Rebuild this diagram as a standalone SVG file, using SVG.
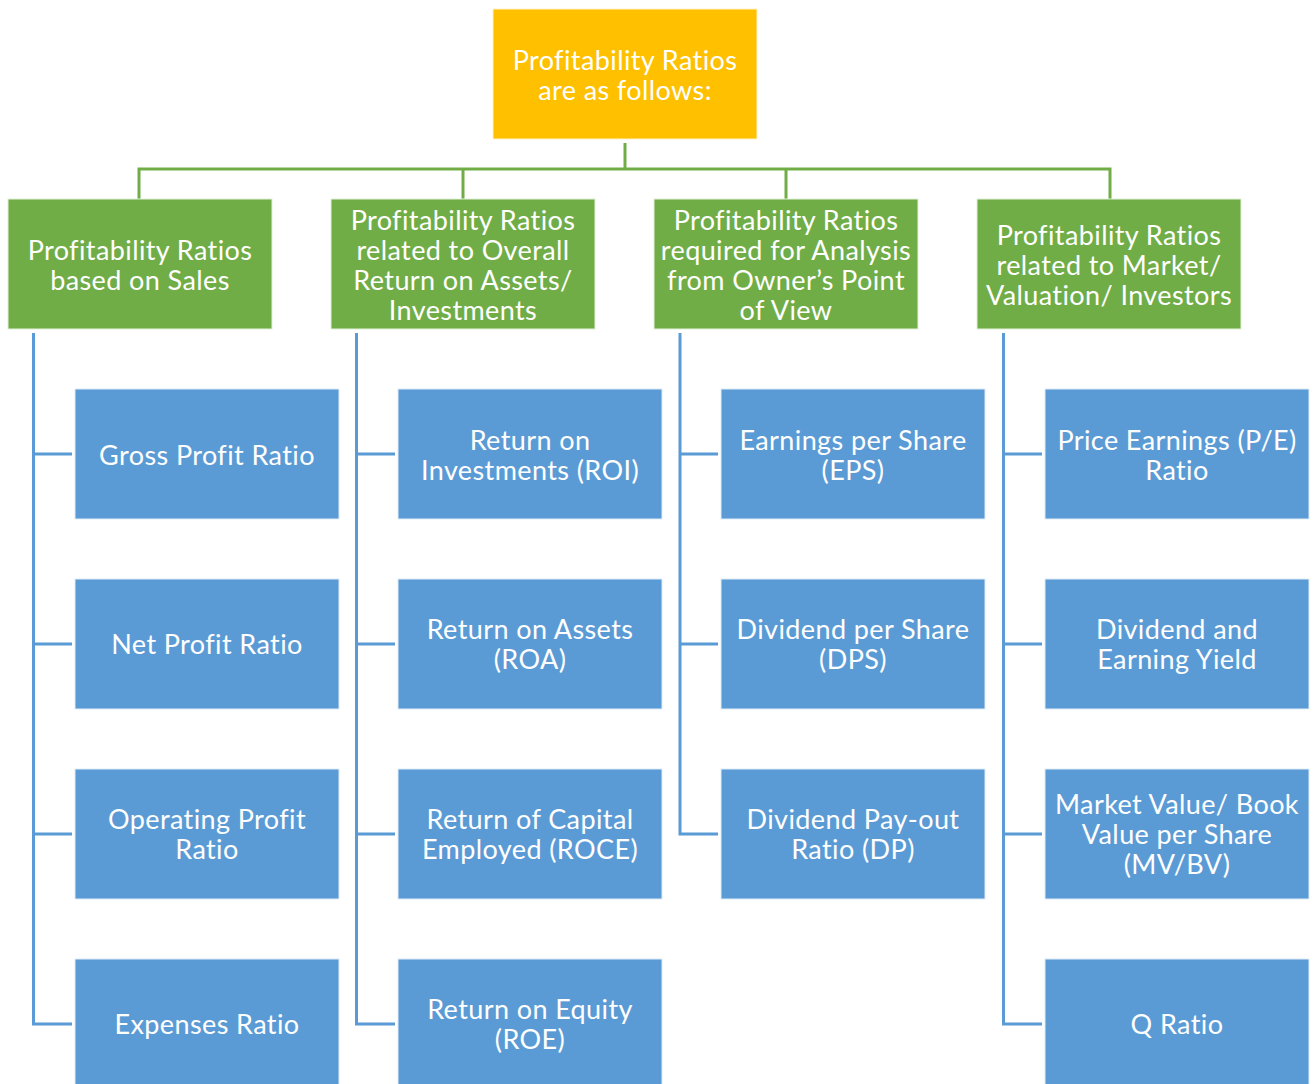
<svg xmlns="http://www.w3.org/2000/svg" width="1314" height="1084" viewBox="0 0 1314 1084">
  <style>
    .root { fill: #FFC000; stroke: #FFF2CC; stroke-width: 1; }
    .cat { fill: #70AD47; stroke: #E2F0D9; stroke-width: 1; }
    .leaf { fill: #5B9BD5; stroke: #DEEBF7; stroke-width: 1; }
    text { font-family: Lato, "Noto Sans", sans-serif; font-size: 27px; letter-spacing: 0.4px; font-variant-ligatures: none; fill: #FFFFFF; text-anchor: middle; dominant-baseline: central; }
    .gl { fill: none; stroke: #70AD47; stroke-width: 3; }
    .bl { fill: none; stroke: #5B9BD5; stroke-width: 3; }
  </style>

  <!-- connectors -->
  <g id="connectors">
    <path class="gl" d="M625 143 V169 M139 199 V169 H1110 V199 M463 169 V199 M786 169 V199"/>
    <path class="bl" d="M33.5 333 V1024 H72 M33.5 454 H72 M33.5 644 H72 M33.5 834 H72"/>
    <path class="bl" d="M356.5 333 V1024 H395 M356.5 454 H395 M356.5 644 H395 M356.5 834 H395"/>
    <path class="bl" d="M680 333 V834 H718 M680 454 H718 M680 644 H718"/>
    <path class="bl" d="M1003.5 333 V1024 H1042 M1003.5 454 H1042 M1003.5 644 H1042 M1003.5 834 H1042"/>
  </g>

  <!-- root -->
  <g id="root">
    <rect class="root" x="493" y="9" width="264" height="130"/>
    <text x="625" y="59">Profitability Ratios</text>
    <text x="625" y="89">are as follows:</text>
  </g>

  <!-- categories -->
  <g id="cat-sales">
    <rect class="cat" x="8" y="199" width="264" height="130"/>
    <text x="140" y="249">Profitability Ratios</text>
    <text x="140" y="279">based on Sales</text>
  </g>
  <g id="cat-assets">
    <rect class="cat" x="331" y="199" width="264" height="130"/>
    <text x="463" y="219">Profitability Ratios</text>
    <text x="463" y="249">related to Overall</text>
    <text x="463" y="279">Return on Assets/</text>
    <text x="463" y="309">Investments</text>
  </g>
  <g id="cat-owner">
    <rect class="cat" x="654" y="199" width="264" height="130"/>
    <text x="786" y="219">Profitability Ratios</text>
    <text x="786" y="249">required for Analysis</text>
    <text x="786" y="279">from Owner’s Point</text>
    <text x="786" y="309">of View</text>
  </g>
  <g id="cat-market">
    <rect class="cat" x="977" y="199" width="264" height="130"/>
    <text x="1109" y="234">Profitability Ratios</text>
    <text x="1109" y="264">related to Market/</text>
    <text x="1109" y="294">Valuation/ Investors</text>
  </g>

  <!-- column 1 -->
  <g id="gross-profit">
    <rect class="leaf" x="75" y="389" width="264" height="130"/>
    <text x="207" y="454">Gross Profit Ratio</text>
  </g>
  <g id="net-profit">
    <rect class="leaf" x="75" y="579" width="264" height="130"/>
    <text x="207" y="643">Net Profit Ratio</text>
  </g>
  <g id="operating-profit">
    <rect class="leaf" x="75" y="769" width="264" height="130"/>
    <text x="207" y="818">Operating Profit</text>
    <text x="207" y="848">Ratio</text>
  </g>
  <g id="expenses">
    <rect class="leaf" x="75" y="959" width="264" height="130"/>
    <text x="207" y="1023">Expenses Ratio</text>
  </g>

  <!-- column 2 -->
  <g id="roi">
    <rect class="leaf" x="398" y="389" width="264" height="130"/>
    <text x="530" y="439">Return on</text>
    <text x="530" y="469">Investments (ROI)</text>
  </g>
  <g id="roa">
    <rect class="leaf" x="398" y="579" width="264" height="130"/>
    <text x="530" y="628">Return on Assets</text>
    <text x="530" y="658">(ROA)</text>
  </g>
  <g id="roce">
    <rect class="leaf" x="398" y="769" width="264" height="130"/>
    <text x="530" y="818">Return of Capital</text>
    <text x="530" y="848">Employed (ROCE)</text>
  </g>
  <g id="roe">
    <rect class="leaf" x="398" y="959" width="264" height="130"/>
    <text x="530" y="1008">Return on Equity</text>
    <text x="530" y="1038">(ROE)</text>
  </g>

  <!-- column 3 -->
  <g id="eps">
    <rect class="leaf" x="721" y="389" width="264" height="130"/>
    <text x="853" y="439">Earnings per Share</text>
    <text x="853" y="469">(EPS)</text>
  </g>
  <g id="dps">
    <rect class="leaf" x="721" y="579" width="264" height="130"/>
    <text x="853" y="628">Dividend per Share</text>
    <text x="853" y="658">(DPS)</text>
  </g>
  <g id="dp">
    <rect class="leaf" x="721" y="769" width="264" height="130"/>
    <text x="853" y="818">Dividend Pay-out</text>
    <text x="853" y="848">Ratio (DP)</text>
  </g>

  <!-- column 4 -->
  <g id="pe">
    <rect class="leaf" x="1045" y="389" width="264" height="130"/>
    <text x="1177" y="439">Price Earnings (P/E)</text>
    <text x="1177" y="469">Ratio</text>
  </g>
  <g id="yield">
    <rect class="leaf" x="1045" y="579" width="264" height="130"/>
    <text x="1177" y="628">Dividend and</text>
    <text x="1177" y="658">Earning Yield</text>
  </g>
  <g id="mvbv">
    <rect class="leaf" x="1045" y="769" width="264" height="130"/>
    <text x="1177" y="803">Market Value/ Book</text>
    <text x="1177" y="833">Value per Share</text>
    <text x="1177" y="863">(MV/BV)</text>
  </g>
  <g id="q-ratio">
    <rect class="leaf" x="1045" y="959" width="264" height="130"/>
    <text x="1177" y="1023">Q Ratio</text>
  </g>
</svg>
